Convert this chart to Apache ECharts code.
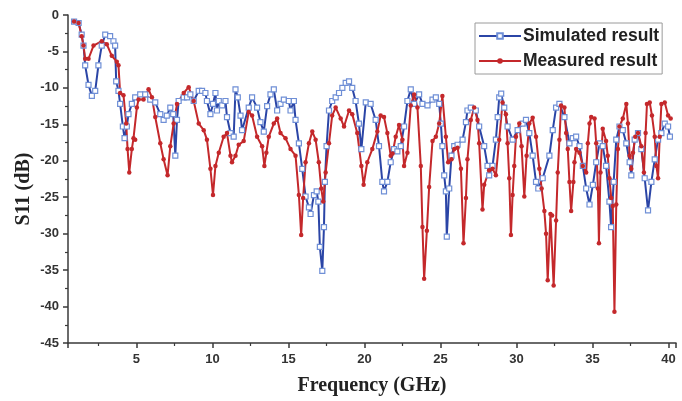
<!DOCTYPE html>
<html>
<head>
<meta charset="utf-8">
<script src="https://cdn.jsdelivr.net/npm/echarts@6/dist/echarts.min.js"></script>
<style>
  html, body { margin: 0; padding: 0; background: #fff; }
  #chart { width: 682px; height: 401px; }
</style>
</head>
<body>
<div id="chart"></div>
<script>
// Simulated S11 (GHz, dB)
const simFreq = [0.9, 1.2, 1.4, 1.52, 1.63, 1.85, 2.07, 2.29, 2.5, 2.72, 2.95, 3.27, 3.49, 3.6, 3.67, 3.82, 3.93, 4.11, 4.22, 4.37,
  4.48, 4.7, 4.92, 5.25, 5.58, 5.91, 6.24, 6.57, 6.79, 7.0, 7.23, 7.42, 7.56, 7.67, 7.78, 8.11, 8.33, 8.55, 8.77, 9.1,
  9.32, 9.54, 9.64, 9.87, 10.04, 10.2, 10.3, 10.42, 10.64, 10.86, 10.96, 11.19, 11.4, 11.52, 11.67, 11.85, 11.95, 12.39, 12.61, 12.94,
  13.16, 13.38, 13.6, 13.82, 14.04, 14.26, 14.48, 14.7, 15.03, 15.14, 15.36, 15.47, 15.69, 15.91, 16.13, 16.35, 16.46, 16.68, 16.86, 16.97,
  17.07, 17.23, 17.34, 17.4, 17.51, 17.67, 17.88, 18.11, 18.33, 18.55, 18.77, 18.99, 19.2, 19.42, 19.64, 19.8, 20.09, 20.41, 20.74, 20.96,
  21.18, 21.29, 21.51, 21.73, 21.95, 22.17, 22.39, 22.61, 22.83, 23.05, 23.27, 23.6, 23.82, 24.15, 24.48, 24.7, 24.92, 25.03, 25.13, 25.25,
  25.36, 25.42, 25.58, 25.73, 25.91, 26.13, 26.46, 26.68, 26.78, 27.0, 27.33, 27.55, 27.88, 28.1, 28.21, 28.43, 28.65, 28.77, 28.87, 29.0,
  29.2, 29.42, 29.75, 30.08, 30.41, 30.63, 30.85, 31.07, 31.29, 31.44, 31.73, 32.17, 32.39, 32.61, 32.83, 33.16, 33.49, 33.71, 33.93, 34.15,
  34.37, 34.59, 34.81, 35.03, 35.25, 35.47, 35.68, 35.9, 36.12, 36.23, 36.4, 36.57, 36.78, 37.0, 37.23, 37.45, 37.56, 37.78, 38.0, 38.22,
  38.44, 38.66, 38.88, 39.1, 39.32, 39.54, 39.76, 39.98, 40.1];
const simS11 = [-0.9, -1.1, -2.7, -4.2, -6.9, -9.6, -11.1, -10.4, -6.9, -4.2, -2.7, -2.9, -3.6, -4.2, -9.1, -10.4, -12.2, -15.3, -16.9, -15.3,
  -13.6, -12.2, -11.3, -10.9, -10.9, -11.6, -12.0, -13.6, -14.4, -13.8, -12.7, -13.6, -19.3, -14.4, -11.8, -11.3, -11.3, -10.9, -11.8, -10.4,
  -10.4, -10.7, -11.8, -13.6, -12.2, -10.7, -13.1, -11.8, -12.4, -11.8, -14.0, -16.2, -16.7, -10.2, -11.3, -13.8, -15.8, -12.7, -11.3, -12.7,
  -14.7, -16.0, -12.5, -10.9, -10.2, -13.1, -12.2, -11.6, -11.8, -13.1, -11.8, -14.4, -17.6, -21.1, -24.9, -26.4, -27.3, -24.7, -24.2, -25.6,
  -31.8, -35.1, -29.1, -22.9, -18.0, -13.1, -11.8, -11.3, -10.7, -10.0, -9.3, -9.1, -10.0, -11.8, -14.9, -18.4, -12.0, -12.2, -14.4, -18.0,
  -22.9, -24.2, -22.9, -20.2, -18.4, -18.7, -18.0, -15.3, -11.8, -10.2, -12.2, -10.9, -12.2, -12.4, -11.6, -11.3, -12.2, -14.9, -18.0, -22.0,
  -24.2, -30.4, -23.8, -19.3, -18.0, -17.8, -17.1, -14.7, -13.1, -12.7, -13.1, -15.3, -18.0, -20.7, -22.0, -20.7, -17.1, -14.0, -11.3, -10.8,
  -12.7, -15.3, -17.1, -15.8, -14.9, -14.4, -16.2, -19.3, -22.9, -23.8, -22.4, -19.3, -15.8, -12.7, -12.2, -14.0, -17.6, -16.9, -16.7, -18.0,
  -20.7, -23.8, -26.0, -23.3, -20.2, -17.6, -18.0, -20.7, -25.6, -29.1, -22.9, -17.1, -15.3, -15.8, -17.6, -20.2, -22.0, -17.1, -16.2, -18.4,
  -22.4, -26.8, -22.9, -19.8, -17.1, -16.2, -14.9, -15.3, -16.7];

// Measured S11 (GHz, dB)
const measFreq = [0.9, 1.2, 1.4, 1.52, 1.63, 1.85, 2.18, 2.72, 3.05, 3.38, 3.71, 3.82, 3.93, 4.15, 4.33, 4.42, 4.53, 4.7, 4.81, 4.92,
  5.03, 5.14, 5.47, 5.8, 6.02, 6.24, 6.57, 6.79, 7.05, 7.23, 7.45, 7.67, 8.11, 8.44, 8.77, 9.1, 9.43, 9.64, 9.87, 10.04,
  10.2, 10.42, 10.74, 10.96, 11.19, 11.29, 11.52, 11.73, 12.06, 12.39, 12.61, 12.94, 13.27, 13.42, 13.55, 13.71, 14.04, 14.26, 14.48, 14.81,
  15.14, 15.47, 15.69, 15.84, 15.97, 16.13, 16.35, 16.57, 16.79, 17.0, 17.16, 17.29, 17.45, 17.67, 17.88, 18.11, 18.44, 18.66, 18.99, 19.2,
  19.53, 19.8, 19.95, 20.19, 20.52, 20.85, 21.07, 21.29, 21.51, 21.73, 21.85, 22.06, 22.28, 22.5, 22.61, 22.83, 23.05, 23.27, 23.49, 23.71,
  23.82, 23.93, 24.11, 24.26, 24.48, 24.7, 24.92, 25.13, 25.36, 25.51, 25.73, 25.91, 26.13, 26.35, 26.52, 26.68, 26.78, 27.0, 27.22, 27.44,
  27.55, 27.77, 27.88, 28.21, 28.43, 28.65, 28.87, 29.09, 29.31, 29.42, 29.53, 29.64, 29.75, 29.86, 29.97, 30.19, 30.34, 30.52, 30.67, 30.85,
  31.07, 31.29, 31.51, 31.66, 31.84, 31.95, 32.06, 32.24, 32.35, 32.45, 32.61, 32.72, 32.83, 32.94, 33.16, 33.27, 33.38, 33.49, 33.6, 33.75,
  33.82, 33.93, 34.15, 34.37, 34.59, 34.7, 34.81, 34.92, 35.14, 35.25, 35.36, 35.43, 35.53, 35.68, 35.9, 36.01, 36.12, 36.24, 36.34, 36.45,
  36.57, 36.68, 36.78, 37.0, 37.23, 37.34, 37.45, 37.56, 37.67, 37.82, 38.0, 38.22, 38.39, 38.5, 38.59, 38.77, 38.92, 39.1, 39.21, 39.32,
  39.43, 39.54, 39.76, 39.98, 40.15];
const measS11 = [-0.9, -1.1, -2.9, -4.2, -6.0, -6.0, -4.2, -3.6, -4.0, -5.6, -6.4, -6.9, -10.7, -11.0, -14.9, -18.4, -21.6, -18.4, -16.9, -17.1,
  -12.7, -11.6, -11.6, -10.2, -11.3, -14.0, -17.6, -19.8, -22.0, -18.0, -14.9, -12.2, -10.7, -9.9, -11.8, -14.9, -15.8, -17.1, -21.1, -24.7,
  -20.7, -18.9, -16.7, -16.2, -19.3, -20.2, -19.3, -17.8, -17.3, -13.3, -13.8, -16.7, -18.0, -20.7, -18.9, -16.7, -14.9, -14.2, -16.2, -16.9,
  -18.4, -19.3, -24.7, -30.2, -25.1, -20.2, -17.6, -16.0, -17.1, -20.2, -23.8, -25.6, -21.6, -17.6, -13.8, -12.7, -14.2, -15.3, -13.1, -13.6,
  -16.2, -20.7, -23.3, -20.2, -18.4, -16.0, -13.8, -14.0, -16.2, -19.3, -19.0, -16.7, -15.1, -17.1, -20.7, -18.9, -12.4, -10.9, -12.7, -20.7,
  -29.1, -36.2, -29.6, -23.6, -17.3, -16.7, -14.9, -11.1, -16.7, -20.2, -19.8, -18.4, -18.2, -21.1, -31.3, -25.1, -19.8, -14.4, -12.7, -14.4,
  -17.6, -26.7, -23.3, -21.3, -21.1, -22.0, -17.1, -12.0, -13.6, -17.6, -22.4, -30.2, -24.7, -20.7, -16.7, -14.9, -18.0, -24.9, -19.3, -14.9,
  -14.1, -16.7, -21.1, -23.8, -26.9, -30.0, -36.4, -27.3, -27.5, -37.1, -28.2, -21.6, -17.1, -12.4, -12.7, -16.2, -18.4, -22.9, -26.9, -22.9,
  -20.2, -18.4, -18.9, -20.7, -21.6, -17.6, -14.9, -14.0, -14.2, -17.6, -23.8, -31.3, -21.6, -15.6, -17.3, -19.3, -22.4, -25.1, -26.2, -40.7,
  -26.0, -18.4, -15.3, -14.2, -12.2, -14.9, -19.3, -21.1, -18.9, -16.7, -16.2, -18.0, -21.6, -16.2, -12.2, -12.0, -13.8, -16.7, -20.7, -22.4,
  -16.7, -12.2, -12.0, -13.8, -14.2];

const yTicks = { min: -45, max: 0, step: 5 };
const xRange = { min: 0.5, max: 40.5 };

const zip = (xs, ys) => xs.map((x, i) => [x, ys[i]]);

const chart = echarts.init(document.getElementById('chart'), null, { renderer: 'canvas' });

const axisColor = '#3a3a3a';
const labelFont = { fontFamily: 'Liberation Sans, Arial, sans-serif', fontWeight: 'bold', fontSize: 13, color: '#333' };
const nameFont = { fontFamily: 'Liberation Serif, Times New Roman, serif', fontWeight: 'bold', fontSize: 20, color: '#222' };

chart.setOption({
  animation: false,
  backgroundColor: '#fff',
  grid: { left: 68, right: 6, top: 15, bottom: 49, containLabel: false },
  // y axis title placed by hand, closer to the tick labels than the axis name allows
  graphic: [{
    type: 'text',
    x: 24,
    y: 189,
    rotation: Math.PI / 2,
    style: {
      text: 'S11 (dB)',
      align: 'center',
      verticalAlign: 'middle',
      font: 'bold 20px "Liberation Serif", "Times New Roman", serif',
      fill: '#222'
    }
  }],
  legend: {
    orient: 'vertical',
    left: 475,
    top: 23,
    padding: [4, 3, 4, 3],
    itemGap: 7,
    itemWidth: 42,
    itemHeight: 7,
    borderColor: '#9a9a9a',
    borderWidth: 1,
    backgroundColor: '#fff',
    textStyle: { fontFamily: 'Liberation Sans, Arial, sans-serif', fontWeight: 'bold', fontSize: 17.5, color: '#222', lineHeight: 18, padding: [0, 0, 0, -3] },
    data: ['Simulated result', 'Measured result']
  },
  xAxis: {
    type: 'value',
    min: xRange.min,
    max: xRange.max,
    splitNumber: 8,
    name: 'Frequency (GHz)',
    nameLocation: 'middle',
    nameGap: 33,
    nameTextStyle: nameFont,
    axisLine: { show: true, onZero: false, lineStyle: { color: axisColor, width: 1.5 } },
    axisTick: { show: true, inside: false, length: 5, lineStyle: { color: axisColor, width: 1.5 } },
    minorTick: { show: true, splitNumber: 2, length: 3, lineStyle: { color: axisColor, width: 1.2 } },
    axisLabel: Object.assign({ margin: 10, showMinLabel: false, showMaxLabel: false }, labelFont),
    splitLine: { show: false }
  },
  yAxis: {
    type: 'value',
    min: yTicks.min,
    max: yTicks.max,
    interval: yTicks.step,
    axisLine: { show: true, onZero: false, lineStyle: { color: axisColor, width: 1.5 } },
    axisTick: { show: true, inside: false, length: 5, lineStyle: { color: axisColor, width: 1.5 } },
    minorTick: { show: true, splitNumber: 2, length: 3, lineStyle: { color: axisColor, width: 1.2 } },
    axisLabel: Object.assign({ margin: 9 }, labelFont),
    splitLine: { show: false }
  },
  series: [
    {
      name: 'Simulated result',
      type: 'line',
      data: zip(simFreq, simS11),
      symbol: 'rect',
      symbolSize: 5,
      showAllSymbol: true,
      lineStyle: { color: '#2b45a6', width: 2 },
      itemStyle: { color: '#fff', borderColor: '#6f8fd6', borderWidth: 1.2 }
    },
    {
      name: 'Measured result',
      type: 'line',
      data: zip(measFreq, measS11),
      symbol: 'circle',
      symbolSize: 4.5,
      showAllSymbol: true,
      lineStyle: { color: '#c4282b', width: 2 },
      itemStyle: { color: '#c4282b' }
    }
  ]
});
</script>
</body>
</html>
